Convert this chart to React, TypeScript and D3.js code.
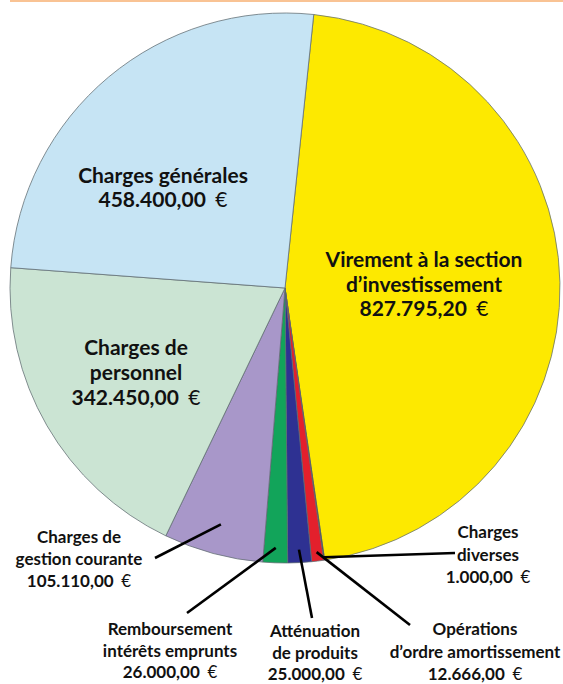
import React from "react";
import * as d3 from "d3";

const categories = [
  "Virement à la section d’investissement",
  "Charges diverses",
  "Opérations d’ordre amortissement",
  "Atténuation de produits",
  "Remboursement intérêts emprunts",
  "Charges de gestion courante",
  "Charges de personnel",
  "Charges générales",
];
const amounts = [827795.2, 1000, 12666, 25000, 26000, 105110, 342450, 458400];
const amountLabels = [
  "827.795,20",
  "1.000,00",
  "12.666,00",
  "25.000,00",
  "26.000,00",
  "105.110,00",
  "342.450,00",
  "458.400,00",
];
const labelLines = [
  ["Virement à la section", "d’investissement"],
  ["Charges", "diverses"],
  ["Opérations", "d’ordre amortissement"],
  ["Atténuation", "de produits"],
  ["Remboursement", "intérêts emprunts"],
  ["Charges de", "gestion courante"],
  ["Charges de", "personnel"],
  ["Charges générales"],
];
const colors = [
  "#FDE900",
  "#1A1A1A",
  "#E3202C",
  "#2E3192",
  "#12A45A",
  "#A897C9",
  "#CBE4D3",
  "#C6E4F4",
];

// layout (not data)
const W = 563;
const H = 684;
const CX = 285;
const CY = 288;
const R = 275;
const START_DEG = 6;

type LabelLayout = {
  x: number;
  y: number;
  size: number;
  lh: number;
  leader?: { r: number; ex: number; ey: number };
};
const labelLayout: LabelLayout[] = [
  { x: 424, y: 267, size: 21, lh: 24.5 },
  { x: 488, y: 538, size: 17, lh: 22.5, leader: { r: 272, ex: 455, ey: 553 } },
  { x: 475, y: 635, size: 17, lh: 22.5, leader: { r: 266, ex: 410, ey: 625 } },
  { x: 315, y: 637, size: 17, lh: 21.5, leader: { r: 262, ex: 312, ey: 618 } },
  { x: 170, y: 635, size: 17, lh: 21.5, leader: { r: 260, ex: 187, ey: 613 } },
  { x: 79, y: 543, size: 17, lh: 22, leader: { r: 245, ex: 155, ey: 558 } },
  { x: 136, y: 355, size: 21, lh: 25 },
  { x: 163, y: 183, size: 21, lh: 24 },
];

const FONT = "Lato, 'Open Sans', sans-serif";

export default function App() {
  const start = (START_DEG * Math.PI) / 180;
  const pie = d3
    .pie<number>()
    .sort(null)
    .value((d) => d)
    .startAngle(start)
    .endAngle(start + 2 * Math.PI);
  const arcs = pie(amounts);
  const arcGen = d3.arc<d3.PieArcDatum<number>>().innerRadius(0).outerRadius(R);

  return (
    <svg
      width={W}
      height={H}
      style={{ position: "absolute", left: 0, top: 0, background: "#fff" }}
    >
      <rect x={10} y={0} width={W - 10} height={2} fill="#F9C394" />
      <g transform={`translate(${CX},${CY})`}>
        {arcs.map((a, i) => (
          <path
            key={categories[i]}
            d={arcGen(a) || ""}
            fill={colors[i]}
            stroke="#5f6b70"
            strokeOpacity={0.75}
            strokeWidth={1}
            strokeLinejoin="round"
          />
        ))}
      </g>
      {arcs.map((a, i) => {
        const L = labelLayout[i];
        if (!L.leader) return null;
        const c = d3
          .arc<d3.PieArcDatum<number>>()
          .innerRadius(L.leader.r)
          .outerRadius(L.leader.r)
          .centroid(a);
        return (
          <line
            key={"l" + i}
            x1={CX + c[0]}
            y1={CY + c[1]}
            x2={L.leader.ex}
            y2={L.leader.ey}
            stroke="#000"
            strokeWidth={2.6}
          />
        );
      })}
      {labelLines.map((lines, i) => {
        const L = labelLayout[i];
        return (
          <text
            key={"t" + i}
            textAnchor="middle"
            fontFamily={FONT}
            fontWeight={700}
            fontSize={L.size}
            fill="#111"
          >
            {lines.map((ln, j) => (
              <tspan key={j} x={L.x} y={L.y + j * L.lh}>
                {ln}
              </tspan>
            ))}
            <tspan x={L.x} y={L.y + lines.length * L.lh}>
              {amountLabels[i]}
              <tspan fontWeight={400} dx={L.size * 0.45}>
                €
              </tspan>
            </tspan>
          </text>
        );
      })}
    </svg>
  );
}
